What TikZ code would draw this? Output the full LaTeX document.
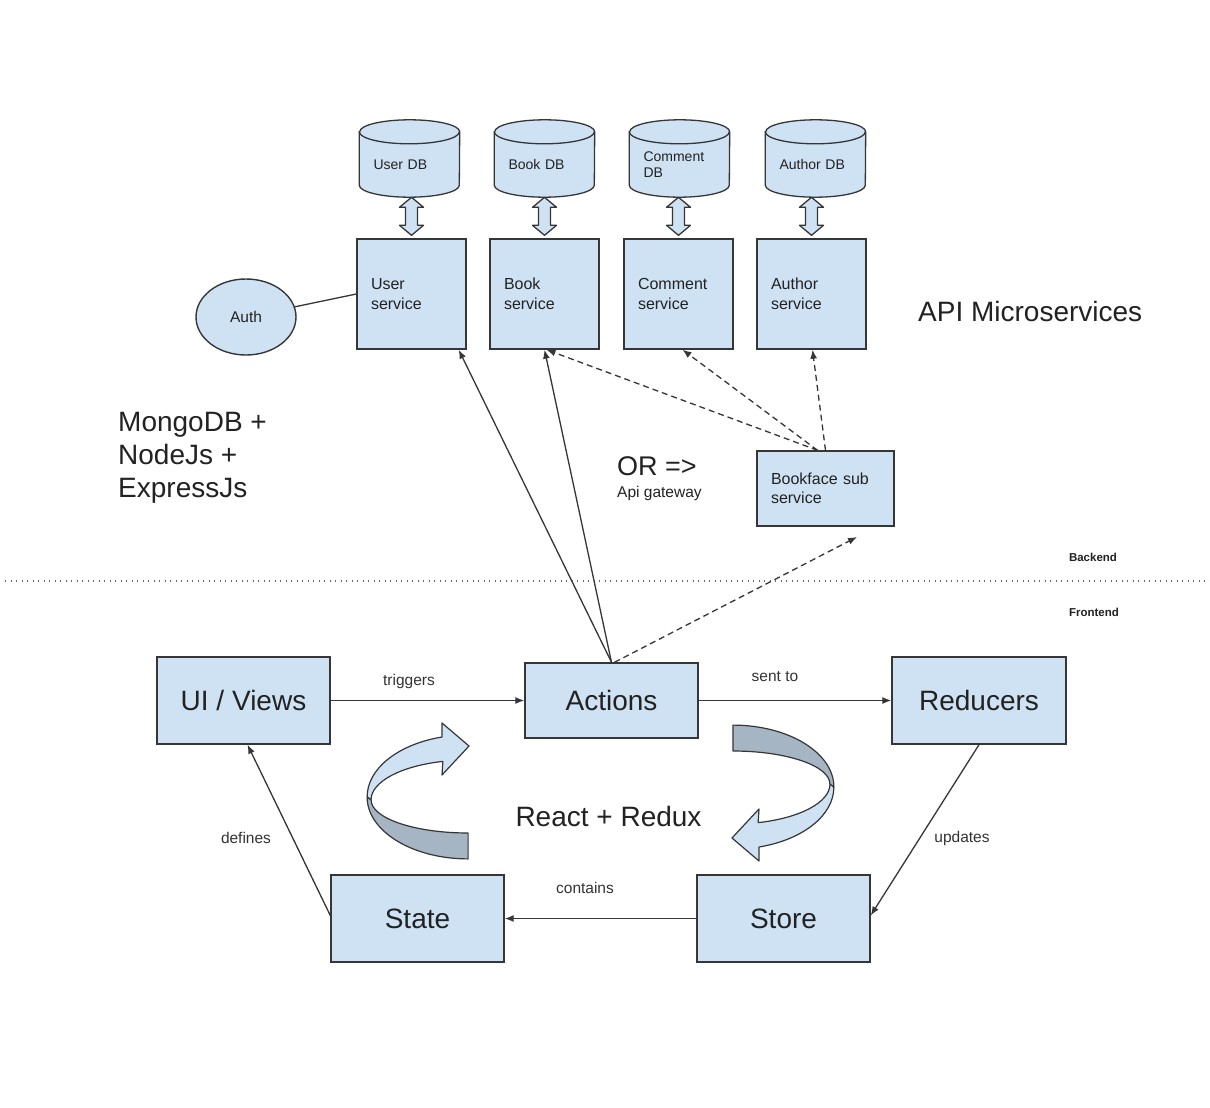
\documentclass[tikz,border=0pt]{standalone}
\usepackage{fontspec}
\setmainfont{Liberation Sans}
\usetikzlibrary{shapes.geometric,arrows.meta,backgrounds,calc}
\definecolor{boxc}{HTML}{CFE2F3}
\definecolor{darkc}{HTML}{A6B5C4}
\definecolor{strokec}{HTML}{363636}
\definecolor{txtc}{HTML}{222222}
\definecolor{lblc}{HTML}{333333}
\newcommand{\drawcyl}[1]{%
  \path[cyl] (#1.north west) -- ([yshift=12pt]#1.south west)
    arc[start angle=180,end angle=360,x radius=50pt,y radius=12pt]
    -- (#1.north east)
    arc[start angle=0,end angle=180,x radius=50pt,y radius=12pt] -- cycle;
  \draw[strokec, line width=1.3pt] (#1.north west)
    arc[start angle=180,end angle=360,x radius=50pt,y radius=12pt];}
\newcommand{\dblarrow}[1]{%
  \draw[blk] ($(#1.north)+(0,-3)$) -- ++(12,-10) -- ++(-6,0) -- ++(0,-18)
    -- ++(6,0) -- ++(-12,-10) -- ++(-12,10) -- ++(6,0) -- ++(0,18)
    -- ++(-6,0) -- cycle;}
\newcommand{\ribbon}{%
  \path[ribl] (442,737) arc[start angle=105,end angle=180,x radius=101pt,y radius=62pt]
    -- (371,800) arc[start angle=180,end angle=105,x radius=97pt,y radius=40pt]
    -- (442,775) -- (469,746) -- (442,723) -- cycle;
  \path[ribd] (367.1,796.9) arc[start angle=180,end angle=270,x radius=101pt,y radius=62pt]
    -- (468.1,833) arc[start angle=270,end angle=180,x radius=97pt,y radius=33pt] -- cycle;}
\begin{document}
\begin{tikzpicture}[x=1pt,y=-1pt,
  box/.style={draw=strokec, fill=boxc, line width=1.4pt, text=txtc},
  svc/.style={box, minimum height=110pt, text width=81pt, inner xsep=14pt, inner ysep=0pt, align=left, font=\fontsize{16}{19.5}\selectfont},
  bfbox/.style={box, minimum height=75pt, text width=109pt, inner xsep=14pt, inner ysep=0pt, align=left, font=\fontsize{16}{19.5}\selectfont},
  db/.style={text width=72pt, inner xsep=14pt, inner ysep=0pt, minimum height=65pt, align=left, font=\fontsize{14}{16}\selectfont, text=txtc},
  fe/.style={box, minimum width=173pt, minimum height=87pt, inner sep=0pt, font=\fontsize{28}{33}\selectfont},
  big/.style={font=\fontsize{28}{33}\selectfont, text=txtc, inner sep=0pt, align=left},
  lbl/.style={font=\fontsize{15.5}{18}\selectfont, text=lblc, inner sep=0pt},
  conn/.style={draw=strokec, line width=1.3pt, -{Latex[length=9pt,width=7pt]}},
  dconn/.style={conn, dash pattern=on 6pt off 4pt},
  blk/.style={draw=strokec, fill=boxc, line width=1.3pt, line join=round},
  cyl/.style={draw=strokec, fill=boxc, line width=1.3pt},
  ribl/.style={draw=strokec, fill=boxc, line width=1.2pt, line join=round},
  ribd/.style={draw=strokec, fill=darkc, line width=1.2pt, line join=round},
  tag/.style={font=\fontsize{11.5}{13}\selectfont\bfseries, text=txtc, inner sep=0pt}]
\useasboundingbox (0,0) rectangle (1210,1108);
\begin{scope}[on background layer]
  \fill[white] (0,0) rectangle (1210,1108);
\end{scope}

% databases
\node[db] (udb) at (409.5,164.5) {User DB};
\node[db] (bdb) at (544.5,164.5) {Book DB};
\node[db] (cdb) at (679.5,164.5) {Comment\\DB};
\node[db] (adb) at (815.5,164.5) {Author DB};
\begin{scope}[on background layer]
  \drawcyl{udb}\drawcyl{bdb}\drawcyl{cdb}\drawcyl{adb}
\end{scope}

% services
\node[svc] (us) at (411.5,294) {User\\service};
\node[svc] (bs) at (544.5,294) {Book\\service};
\node[svc] (cs) at (678.5,294) {Comment\\service};
\node[svc] (as) at (811.5,294) {Author\\service};
\dblarrow{us}\dblarrow{bs}\dblarrow{cs}\dblarrow{as}

\node[box, ellipse, minimum width=100pt, minimum height=76pt, inner sep=0pt, font=\fontsize{15.5}{18}\selectfont] (auth) at (246,317) {Auth};
\draw[strokec, line width=1.3pt] (auth) -- (us.west);

\node[big, anchor=west] (api) at (918,311) {API Microservices};
\node[big, anchor=west] (mongo) at (118,458) {MongoDB +\\NodeJs +\\ExpressJs};
\node[big, anchor=west, font=\fontsize{27}{30}\selectfont] (or) at (617,466) {OR =>};
\node[lbl, anchor=west, text=txtc] (gw) at (617,493) {Api gateway};

\node[bfbox] (bf) at (825.5,488.5) {Bookface sub\\service};

% separator
\coordinate (dl) at (5,581);
\coordinate (dr) at (1210,581);
\draw[strokec!75, line width=1.2pt, dash pattern=on 1.2pt off 4.3pt] (dl) -- (dr);
\node[tag] (be) at (1093,557) {Backend};
\node[tag] (fr) at (1094,612) {Frontend};

% frontend boxes
\node[fe] (ui) at (243.5,700.5) {UI / Views};
\node[fe, minimum height=75pt] (act) at (611.5,700.5) {Actions};
\node[fe, minimum width=174pt] (red) at (979,700.5) {Reducers};
\node[fe] (state) at (417.5,918.5) {State};
\node[fe] (store) at (783.5,918.5) {Store};

% backend connectors
\draw[conn] (act.north) -- ([xshift=-8pt]us.south east);
\draw[conn] (act.north) -- (bs.south);
\coordinate (bfend) at (857,537);
\draw[dconn] ([xshift=3pt]act.north) -- (bfend);
\draw[dconn] ([xshift=-8pt]bf.north) -- ([xshift=2pt]bs.south);
\draw[dconn] ([xshift=-8pt]bf.north) -- ([xshift=4pt]cs.south);
\draw[dconn] (bf.north) -- ([xshift=1pt]as.south);

% frontend connectors
\draw[conn] (ui.east) -- (act.west);
\draw[conn] (act.east) -- (red.west);
\draw[conn] (red.south) -- ([yshift=3pt]store.east);
\draw[conn] (store.west) -- (state.east);
\draw[conn] ([yshift=3pt]state.west) -- ([xshift=4pt]ui.south);
\node[lbl] (l1) at (409,681) {triggers};
\node[lbl] (l2) at (775,677) {sent to};
\node[lbl] (l3) at (962,838) {updates};
\node[lbl] (l4) at (585,888) {contains};
\node[lbl] (l5) at (246,838) {defines};

% ribbon arrows
\ribbon
\begin{scope}[rotate around={180:(600.5,792)}]
  \ribbon
\end{scope}
\node[big] (rr) at (608.5,816) {React + Redux};
\end{tikzpicture}
\end{document}
